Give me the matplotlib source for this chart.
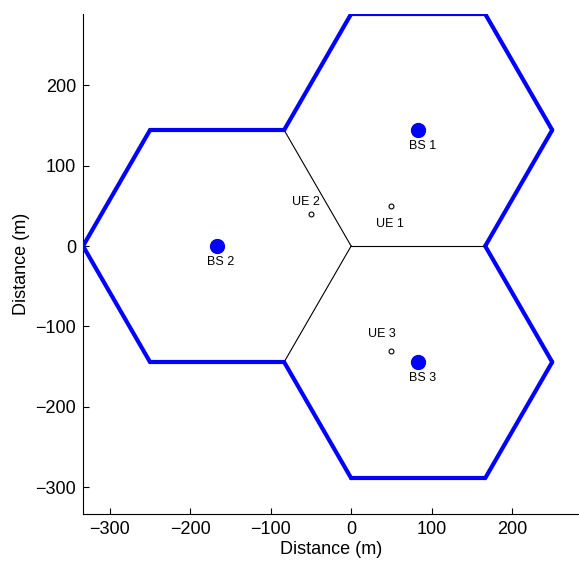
import numpy as np
import matplotlib.pyplot as plt

# cell layout: three hexagonal cells of radius R
R = 500 / 3.0
bs_x = [83.33, -166.67, 83.33]
bs_y = [144.34, 0.0, -144.34]
bs_names = ['BS 1', 'BS 2', 'BS 3']

ue_x = [50, -50, 50]
ue_y = [50, 40, -130]
ue_names = ['UE 1', 'UE 2', 'UE 3']

plt.rcParams['font.family'] = ['Liberation Sans', 'DejaVu Sans']

fig = plt.figure(figsize=(5.79, 5.61), dpi=100)
ax = fig.add_axes([0.1434, 0.0838, 0.8566, 0.8913])

# collect hexagon edges, shared ones get drawn thin
edges = {}
for cx, cy in zip(bs_x, bs_y):
    ang = np.deg2rad(np.arange(0, 360, 60))
    vx = cx + R * np.cos(ang)
    vy = cy + R * np.sin(ang)
    for i in range(6):
        a = (round(vx[i], 1), round(vy[i], 1))
        b = (round(vx[(i + 1) % 6], 1), round(vy[(i + 1) % 6], 1))
        key = tuple(sorted([a, b]))
        edges[key] = edges.get(key, 0) + 1

for (a, b), n in edges.items():
    if n > 1:
        ax.plot([a[0], b[0]], [a[1], b[1]], color='black', lw=0.8, zorder=2)
    else:
        ax.plot([a[0], b[0]], [a[1], b[1]], color='blue', lw=3,
                solid_capstyle='round', zorder=3)

ax.plot(bs_x, bs_y, 'o', color='blue', markersize=10, zorder=4)
for x, y, s in zip(bs_x, bs_y, bs_names):
    ax.text(x + 5, y - 20, s, ha='center', va='center', fontsize=9)

ax.plot(ue_x, ue_y, 'o', mfc='white', mec='black', markersize=3.5, mew=0.8, zorder=4)
ax.text(ue_x[0] - 2, ue_y[0] - 22, ue_names[0], ha='center', va='center', fontsize=9)
ax.text(ue_x[1] - 6, ue_y[1] + 15, ue_names[1], ha='center', va='center', fontsize=9)
ax.text(ue_x[2] - 12, ue_y[2] + 20, ue_names[2], ha='center', va='center', fontsize=9)

ax.set_xlim(-333.3, 283.3)
ax.set_ylim(-333.3, 288.7)
ax.set_xticks([-300, -200, -100, 0, 100, 200])
ax.set_yticks([-300, -200, -100, 0, 100, 200])
ax.set_xticklabels(['\u2212300', '\u2212200', '\u2212100', '0', '100', '200'])
ax.set_yticklabels(['\u2212300', '\u2212200', '\u2212100', '0', '100', '200'])
ax.tick_params(direction='in', length=4, labelsize=13, pad=5)
ax.spines['top'].set_visible(False)
ax.spines['right'].set_visible(False)
for sp in ax.spines.values():
    sp.set_linewidth(0.8)

ax.set_xlabel('Distance (m)', fontsize=13, labelpad=2)
ax.set_ylabel('Distance (m)', fontsize=13, labelpad=4)

fig.savefig('out.png', dpi=100)
